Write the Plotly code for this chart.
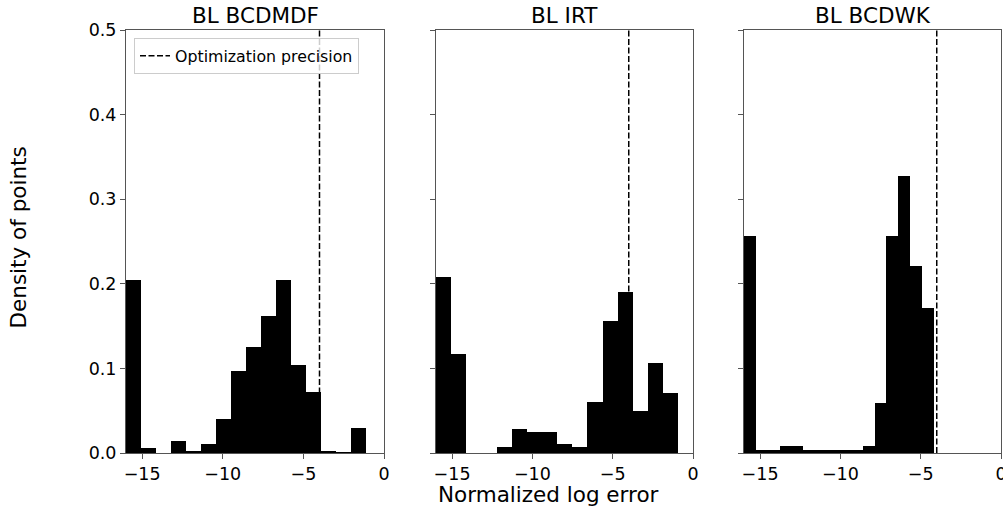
import plotly.graph_objects as go

# ---- data ----
titles = ["BL BCDMDF", "BL IRT", "BL BCDWK"]
bin_start = [-16.0, -16.0, -16.0]
bin_width = [0.929, 0.943, 0.739]
dens_bcdmdf = [0.204, 0.0064, 0.0, 0.0138, 0.0028, 0.0103, 0.0398, 0.0965,
               0.125, 0.1616, 0.204, 0.1037, 0.0717, 0.0028, 0.001, 0.0292]
dens_irt = [0.208, 0.1167, 0.0, 0.0, 0.0067, 0.028, 0.0245, 0.0245,
            0.0106, 0.0067, 0.0599, 0.1557, 0.19, 0.0493, 0.106, 0.0709]
dens_bcdwk = [0.256, 0.004, 0.004, 0.0087, 0.0087, 0.004, 0.004, 0.004,
              0.004, 0.004, 0.0087, 0.0587, 0.256, 0.328, 0.2207, 0.1714]
precision = -4.0
x_ticks = [-15, -10, -5, 0]
y_ticks = [0.0, 0.1, 0.2, 0.3, 0.4, 0.5]
legend_label = "Optimization precision"
x_label = "Normalized log error"
y_label = "Density of points"

series = [dens_bcdmdf, dens_irt, dens_bcdwk]

FONT = "DejaVu Sans"
W, H = 1003, 510
ML, MR, MT, MB = 126, 2, 30, 57
PW = W - ML - MR
PH = H - MT - MB
panels_px = [(126, 384), (436, 693), (744, 1001)]
domains = [[(a - ML) / PW, (b - ML) / PW] for a, b in panels_px]


def px_x(x):
    return (x - ML) / PW


def px_y(y):
    return (MT + PH - y) / PH


fig = go.Figure()
for i, dens in enumerate(series):
    n = len(dens)
    w = bin_width[i]
    centers = [bin_start[i] + w * (k + 0.5) for k in range(n)]
    xa = "x" if i == 0 else f"x{i+1}"
    ya = "y" if i == 0 else f"y{i+1}"
    fig.add_trace(go.Bar(x=centers, y=dens, width=[w] * n,
                         marker=dict(color="black", line=dict(width=0)),
                         showlegend=False, xaxis=xa, yaxis=ya, hoverinfo="x+y"))
    fig.add_trace(go.Scatter(x=[precision, precision], y=[0, 0.5], mode="lines",
                             line=dict(color="black", width=1.5, dash="6px,2.5px"),
                             name=legend_label, showlegend=(i == 0),
                             xaxis=xa, yaxis=ya))

axis_common = dict(showline=True, mirror=True, linecolor="#555", linewidth=1,
                   ticks="outside", ticklen=5, tickwidth=1, tickcolor="#555",
                   showgrid=False, zeroline=False, automargin=False,
                   tickfont=dict(family=FONT, size=17.5, color="black"))

layout = dict(width=W, height=H, margin=dict(l=ML, r=MR, t=MT, b=MB),
              plot_bgcolor="white", paper_bgcolor="white", template="none",
              bargap=0, barmode="overlay",
              font=dict(family=FONT, color="black"),
              legend=dict(x=px_x(134), y=px_y(38), xanchor="left", yanchor="top",
                          bgcolor="rgba(255,255,255,0.8)", bordercolor="#cccccc",
                          borderwidth=1, font=dict(family=FONT, size=15.8, color="black"),
                          tracegroupgap=0))
for i in range(3):
    xk = "xaxis" if i == 0 else f"xaxis{i+1}"
    yk = "yaxis" if i == 0 else f"yaxis{i+1}"
    layout[xk] = dict(axis_common, domain=domains[i], range=[-16, 0],
                      tickvals=x_ticks, anchor="y" if i == 0 else f"y{i+1}",
                      ticklabeloverflow="allow")
    layout[yk] = dict(axis_common, domain=[0, 1], range=[0, 0.5], tickvals=y_ticks,
                      tickformat=".1f", showticklabels=(i == 0),
                      anchor="x" if i == 0 else f"x{i+1}")

annotations = []
for i, t in enumerate(titles):
    annotations.append(dict(text=t, x=sum(domains[i]) / 2, y=px_y(15),
                            xref="paper", yref="paper", xanchor="center", yanchor="middle",
                            showarrow=False, font=dict(family=FONT, size=21.5, color="black")))
annotations.append(dict(text=x_label, x=px_x(548.5), y=px_y(495),
                        xref="paper", yref="paper", xanchor="center", yanchor="middle",
                        showarrow=False, font=dict(family=FONT, size=21.5, color="black")))
annotations.append(dict(text=y_label, x=px_x(18), y=px_y(237.5),
                        xref="paper", yref="paper", xanchor="center", yanchor="middle",
                        textangle=-90, showarrow=False,
                        font=dict(family=FONT, size=21.5, color="black")))
layout["annotations"] = annotations

fig.update_layout(**layout)
fig.write_html("out.html", config={"displayModeBar": False},
               post_script="document.body.style.margin='0';document.body.style.overflow='hidden';")
